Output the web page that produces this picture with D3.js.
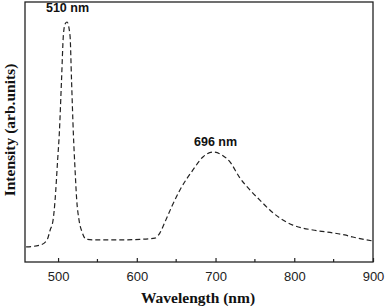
<!DOCTYPE html>
<html>
<head>
<meta charset="utf-8">
<script src="https://cdn.jsdelivr.net/npm/d3@7"></script>
<style>
  body { margin: 0; background: #fff; }
  svg { display: block; }
</style>
</head>
<body>
<svg id="chart"></svg>
<script>
// spectre (nm, unités arbitraires)
const wavelength = [459.4, 477.2, 486, 490, 493.7, 496.2, 499.4, 501.6, 504.4, 506.7, 508.9, 511.4,
  515.2, 517.1, 519.4, 521.6, 523.7, 526.6, 530.5, 535.5, 547, 578.7, 604, 623, 629.4, 635.8,
  644.7, 654.8, 671.3, 684, 696.7, 708, 718.3, 731, 743.7, 756.3, 769, 781.7, 798.2, 823.6,
  849, 864, 874.4, 899.7];
const intensity = [5.8, 6.5, 8.5, 12.3, 16.2, 23.8, 39, 49.6, 70, 87, 91.5, 92.3,
  87, 70, 49.6, 35.4, 23.8, 16.2, 11.5, 8.8, 8.5, 8.5, 8.7, 9.2, 11.2, 15.4,
  21.5, 27.7, 35.4, 40.4, 42.3, 41.2, 38.5, 32.3, 27.7, 23.8, 20, 16.9, 14.2, 12.3,
  11.2, 10.4, 9.6, 8.1];
const xTicks = [500, 600, 700, 800, 900];
const xMinorTicks = [550, 650, 750, 850];
const peakLabels = ["510 nm", "696 nm"];
const peakPos = [512, 700];
const peakVal = [96.2, 44.6];

const svg = d3.select("#chart").attr("width", 387).attr("height", 308);
const margin = { left: 25, right: 14, top: 2, bottom: 46 };
const width = 387 - margin.left - margin.right;
const height = 308 - margin.top - margin.bottom;

const x = d3.scaleLinear().domain([458, 900]).range([margin.left, margin.left + width]);
const y = d3.scaleLinear().domain([0, 100]).range([margin.top + height, margin.top]);

const data = wavelength.map((w, i) => ({ w, v: intensity[i] }));

// cadre
svg.append("rect")
  .attr("x", margin.left).attr("y", margin.top)
  .attr("width", width).attr("height", height)
  .attr("fill", "none").attr("stroke", "#222").attr("stroke-width", 1.3);

// axe x : graduations vers l'intérieur
const xAxis = svg.append("g")
  .attr("transform", `translate(0,${margin.top + height})`)
  .call(d3.axisBottom(x).tickValues(xTicks).tickSizeInner(-4).tickSizeOuter(0).tickPadding(10));
xAxis.select(".domain").remove();
xAxis.selectAll(".tick line").attr("stroke", "#222").attr("stroke-width", 1.2);
xAxis.selectAll("text")
  .attr("font-family", "'Liberation Sans', Arial, sans-serif")
  .attr("font-size", 13).attr("fill", "#222");

svg.append("g")
  .attr("transform", `translate(0,${margin.top + height})`)
  .selectAll("line").data(xMinorTicks).join("line")
  .attr("x1", d => x(d)).attr("x2", d => x(d))
  .attr("y1", 0).attr("y2", -3)
  .attr("stroke", "#222").attr("stroke-width", 1.2);

// courbe en tirets
const line = d3.line().x(d => x(d.w)).y(d => y(d.v)).curve(d3.curveMonotoneX);
svg.append("path")
  .datum(data)
  .attr("d", line)
  .attr("fill", "none")
  .attr("stroke", "#222")
  .attr("stroke-width", 1.2)
  .attr("stroke-dasharray", "5,3");

// étiquettes des pics
svg.selectAll(".peak").data(peakLabels).join("text")
  .attr("class", "peak")
  .attr("x", (d, i) => x(peakPos[i]))
  .attr("y", (d, i) => y(peakVal[i]))
  .attr("text-anchor", "middle")
  .attr("font-family", "'Liberation Sans', Arial, sans-serif")
  .attr("font-weight", "bold").attr("font-size", 12.5).attr("fill", "#111")
  .text(d => d);

// titres des axes
svg.append("text")
  .attr("x", 198).attr("y", 303)
  .attr("text-anchor", "middle")
  .attr("font-family", "'Liberation Serif', 'Times New Roman', serif")
  .attr("font-weight", "bold").attr("font-size", 15.5).attr("fill", "#111")
  .text("Wavelength (nm)");

svg.append("text")
  .attr("transform", "translate(15,130) rotate(-90)")
  .attr("text-anchor", "middle")
  .attr("font-family", "'Liberation Serif', 'Times New Roman', serif")
  .attr("font-weight", "bold").attr("font-size", 15.5).attr("fill", "#111")
  .text("Intensity (arb.units)");
</script>
</body>
</html>
